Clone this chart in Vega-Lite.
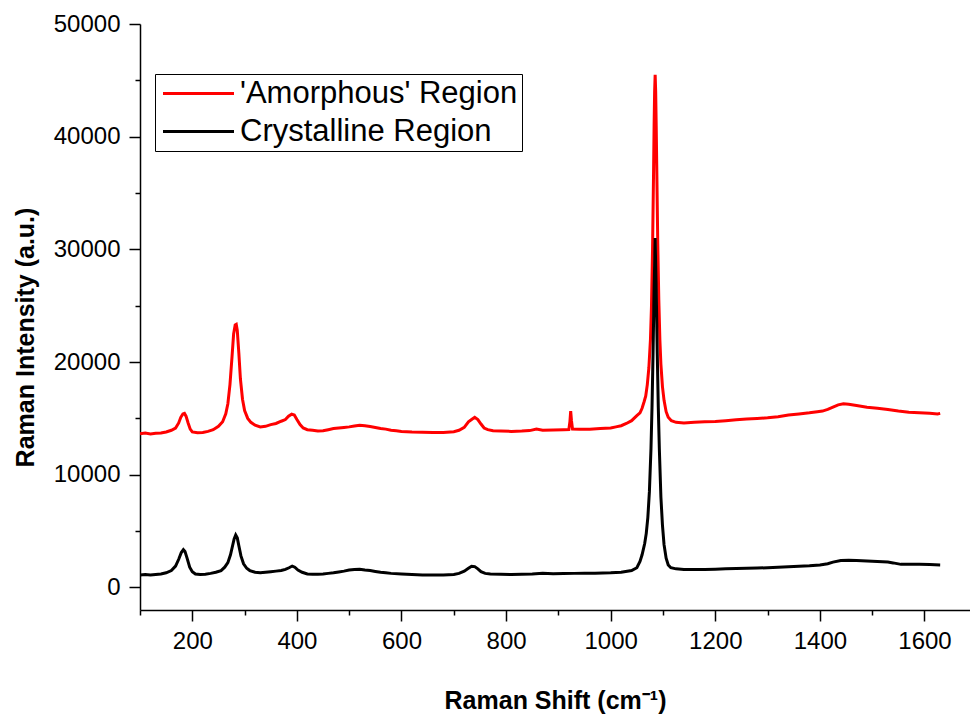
{
  "$schema": "https://vega.github.io/schema/vega-lite/v6.json",
  "width": 830,
  "height": 586,
  "autosize": {"type": "none"},
  "padding": {"left": 140, "top": 24, "right": 0, "bottom": 105},
  "background": "white",
  "config": {
    "view": {"stroke": null},
    "font": "Liberation Sans",
    "axis": {
      "domainColor": "black", "domainWidth": 1.5, "tickColor": "black", "tickWidth": 1.5,
      "labelColor": "black", "titleColor": "black", "labelFont": "Liberation Sans", "titleFont": "Liberation Sans",
      "labelFontSize": 24, "titleFontSize": 25, "titleFontWeight": "bold", "grid": false
    }
  },
  "datasets": {
    "amorphous": [
      {"x":100,"y":13650},{"x":110,"y":13700},{"x":120,"y":13620},{"x":130,"y":13680},{"x":140,"y":13700},{"x":150,"y":13800},{"x":160,"y":13950},{"x":168,"y":14150},{"x":174,"y":14600},{"x":178,"y":15100},{"x":182,"y":15400},{"x":185,"y":15450},{"x":188,"y":15200},{"x":192,"y":14600},{"x":196,"y":14050},{"x":200,"y":13800},{"x":210,"y":13720},{"x":220,"y":13750},{"x":230,"y":13850},{"x":240,"y":14000},{"x":250,"y":14300},{"x":258,"y":14700},{"x":264,"y":15400},{"x":268,"y":16300},{"x":272,"y":18000},{"x":276,"y":20500},{"x":279,"y":22500},{"x":282,"y":23300},{"x":284,"y":23350},{"x":286,"y":22800},{"x":289,"y":20800},{"x":292,"y":18500},{"x":296,"y":16700},{"x":300,"y":15700},{"x":306,"y":15000},{"x":312,"y":14650},{"x":320,"y":14400},{"x":330,"y":14250},{"x":340,"y":14300},{"x":350,"y":14450},{"x":360,"y":14550},{"x":370,"y":14750},{"x":378,"y":14900},{"x":384,"y":15200},{"x":390,"y":15380},{"x":395,"y":15300},{"x":400,"y":14900},{"x":406,"y":14450},{"x":412,"y":14150},{"x":420,"y":14000},{"x":430,"y":13950},{"x":440,"y":13880},{"x":450,"y":13900},{"x":460,"y":14000},{"x":470,"y":14100},{"x":480,"y":14150},{"x":490,"y":14200},{"x":500,"y":14250},{"x":510,"y":14330},{"x":520,"y":14400},{"x":530,"y":14350},{"x":540,"y":14280},{"x":550,"y":14200},{"x":560,"y":14100},{"x":570,"y":14050},{"x":580,"y":13950},{"x":590,"y":13900},{"x":600,"y":13850},{"x":620,"y":13800},{"x":640,"y":13780},{"x":660,"y":13760},{"x":680,"y":13750},{"x":700,"y":13820},{"x":710,"y":13950},{"x":720,"y":14200},{"x":728,"y":14700},{"x":734,"y":14900},{"x":740,"y":15100},{"x":746,"y":14900},{"x":752,"y":14500},{"x":758,"y":14150},{"x":765,"y":14000},{"x":775,"y":13900},{"x":790,"y":13880},{"x":810,"y":13850},{"x":830,"y":13880},{"x":845,"y":13920},{"x":858,"y":14050},{"x":870,"y":13950},{"x":890,"y":13970},{"x":910,"y":14000},{"x":920,"y":14020},{"x":922,"y":14700},{"x":923.5,"y":15650},{"x":925,"y":14800},{"x":927,"y":14050},{"x":940,"y":14030},{"x":960,"y":14050},{"x":980,"y":14100},
      {"x":1000,"y":14150},{"x":1010,"y":14250},{"x":1020,"y":14350},{"x":1030,"y":14550},{"x":1040,"y":14800},{"x":1050,"y":15250},{"x":1056,"y":15500},{"x":1060,"y":15900},{"x":1064,"y":16500},{"x":1067,"y":17000},{"x":1070,"y":18000},{"x":1073,"y":19500},{"x":1076,"y":22000},{"x":1078,"y":25000},{"x":1080,"y":30000},{"x":1082,"y":37000},{"x":1083,"y":41000},{"x":1084,"y":44000},{"x":1085,"y":45500},{"x":1086,"y":44000},{"x":1087,"y":41000},{"x":1088,"y":37500},{"x":1090,"y":30500},{"x":1092,"y":25500},{"x":1094,"y":22000},{"x":1096,"y":19800},{"x":1099,"y":17800},{"x":1102,"y":16600},{"x":1106,"y":15600},{"x":1110,"y":15100},{"x":1116,"y":14800},{"x":1125,"y":14650},{"x":1140,"y":14600},
      {"x":1160,"y":14650},{"x":1180,"y":14700},{"x":1200,"y":14720},{"x":1220,"y":14800},{"x":1240,"y":14880},{"x":1260,"y":14950},{"x":1280,"y":15000},{"x":1300,"y":15050},{"x":1320,"y":15150},{"x":1340,"y":15300},{"x":1360,"y":15400},{"x":1380,"y":15500},{"x":1395,"y":15600},{"x":1405,"y":15650},{"x":1415,"y":15800},{"x":1425,"y":16000},{"x":1435,"y":16200},{"x":1445,"y":16300},{"x":1455,"y":16250},{"x":1470,"y":16150},{"x":1490,"y":16000},{"x":1510,"y":15900},{"x":1530,"y":15800},{"x":1550,"y":15650},{"x":1570,"y":15550},{"x":1590,"y":15500},{"x":1610,"y":15450},{"x":1625,"y":15400},{"x":1630,"y":15450}
    ],
    "crystalline": [
      {"x":100,"y":1100},{"x":110,"y":1150},{"x":120,"y":1100},{"x":130,"y":1150},{"x":140,"y":1200},{"x":150,"y":1300},{"x":160,"y":1500},{"x":168,"y":1900},{"x":174,"y":2500},{"x":179,"y":3100},{"x":183,"y":3350},{"x":186,"y":3200},{"x":190,"y":2600},{"x":195,"y":1800},{"x":200,"y":1400},{"x":206,"y":1200},{"x":215,"y":1150},{"x":225,"y":1180},{"x":235,"y":1250},{"x":245,"y":1350},{"x":255,"y":1500},{"x":262,"y":1800},{"x":268,"y":2200},{"x":273,"y":2900},{"x":277,"y":3700},{"x":280,"y":4300},{"x":283,"y":4650},{"x":286,"y":4400},{"x":289,"y":3700},{"x":293,"y":2800},{"x":298,"y":2100},{"x":304,"y":1700},{"x":310,"y":1500},{"x":320,"y":1350},{"x":330,"y":1300},{"x":340,"y":1350},{"x":350,"y":1400},{"x":360,"y":1450},{"x":370,"y":1500},{"x":378,"y":1600},{"x":385,"y":1750},{"x":391,"y":1900},{"x":396,"y":1800},{"x":402,"y":1550},{"x":410,"y":1350},{"x":420,"y":1200},{"x":430,"y":1170},{"x":440,"y":1180},{"x":450,"y":1200},{"x":460,"y":1250},{"x":470,"y":1300},{"x":480,"y":1380},{"x":490,"y":1450},{"x":500,"y":1550},{"x":510,"y":1600},{"x":520,"y":1620},{"x":530,"y":1550},{"x":540,"y":1500},{"x":550,"y":1420},{"x":560,"y":1350},{"x":570,"y":1300},{"x":580,"y":1250},{"x":600,"y":1200},{"x":620,"y":1150},{"x":640,"y":1100},{"x":660,"y":1100},{"x":680,"y":1100},{"x":700,"y":1150},{"x":710,"y":1250},{"x":720,"y":1450},{"x":728,"y":1700},{"x":734,"y":1880},{"x":740,"y":1850},{"x":746,"y":1650},{"x":752,"y":1400},{"x":760,"y":1250},{"x":770,"y":1200},{"x":790,"y":1170},{"x":810,"y":1150},{"x":830,"y":1180},{"x":850,"y":1200},{"x":870,"y":1250},{"x":890,"y":1220},{"x":910,"y":1230},{"x":930,"y":1250},{"x":950,"y":1260},{"x":970,"y":1270},{"x":985,"y":1290},
      {"x":1000,"y":1300},{"x":1020,"y":1350},{"x":1040,"y":1500},{"x":1050,"y":1750},{"x":1056,"y":2300},{"x":1060,"y":2900},{"x":1065,"y":3900},{"x":1068,"y":4800},{"x":1071,"y":6200},{"x":1074,"y":8500},{"x":1077,"y":12300},{"x":1079,"y":16000},{"x":1081,"y":20800},{"x":1082,"y":23700},{"x":1083,"y":26500},{"x":1084,"y":28600},{"x":1085,"y":31000},{"x":1086,"y":28600},{"x":1087,"y":26500},{"x":1088,"y":23700},{"x":1089,"y":20800},{"x":1091,"y":16000},{"x":1093,"y":12300},{"x":1096,"y":8000},{"x":1099,"y":5500},{"x":1102,"y":3800},{"x":1106,"y":2600},{"x":1110,"y":2000},{"x":1115,"y":1750},{"x":1125,"y":1650},{"x":1140,"y":1600},
      {"x":1160,"y":1600},{"x":1180,"y":1600},{"x":1200,"y":1620},{"x":1220,"y":1650},{"x":1240,"y":1680},{"x":1260,"y":1700},{"x":1280,"y":1720},{"x":1300,"y":1750},{"x":1320,"y":1800},{"x":1340,"y":1830},{"x":1360,"y":1880},{"x":1380,"y":1920},{"x":1400,"y":2000},{"x":1415,"y":2100},{"x":1425,"y":2250},{"x":1440,"y":2400},{"x":1455,"y":2420},{"x":1470,"y":2400},{"x":1490,"y":2350},{"x":1510,"y":2300},{"x":1530,"y":2250},{"x":1540,"y":2180},{"x":1555,"y":2050},{"x":1570,"y":2050},{"x":1590,"y":2050},{"x":1610,"y":2030},{"x":1630,"y":2000}
    ]
  },
  "encoding": {
    "x": {
      "field": "x", "type": "quantitative",
      "scale": {"domain": [100, 1687], "nice": false, "zero": false},
      "axis": {
        "title": "Raman Shift (cm⁻¹)",
        "values": [100,200,300,400,500,600,700,800,900,1000,1100,1200,1300,1400,1500,1600],
        "labelExpr": "datum.value % 200 === 0 ? datum.label : ''",
        "format": "d",
        "tickSize": {"expr": "datum.value % 200 === 0 ? 11 : 5"},
        "labelPadding": 8,
        "titleY": 98, "titleBaseline": "alphabetic"
      }
    },
    "y": {
      "field": "y", "type": "quantitative",
      "scale": {"domain": [-2000, 50000], "nice": false, "zero": false},
      "axis": {
        "title": "Raman Intensity (a.u.)",
        "values": [0,5000,10000,15000,20000,25000,30000,35000,40000,45000,50000],
        "labelExpr": "datum.value % 10000 === 0 ? datum.label : ''",
        "format": "d",
        "tickSize": {"expr": "datum.value % 10000 === 0 ? 11 : 5"},
        "labelPadding": 9,
        "titleX": -107, "titleY": 313, "titleBaseline": "alphabetic", "titleAngle": -90
      }
    }
  },
  "layer": [
    {"data": {"name": "amorphous"}, "mark": {"type": "line", "strokeWidth": 3, "clip": true},
     "encoding": {"color": {
      "datum": "Amorphous", "type": "nominal",
      "scale": {"domain": ["Amorphous", "Crystalline"], "range": ["#ff0000", "#000000"]},
      "legend": {
        "title": null, "orient": "none", "legendX": 15, "legendY": 50,
        "strokeColor": "black", "padding": 4, "fillColor": "white",
        "symbolType": "M-2.84,0L2.84,0", "symbolSize": 625, "symbolStrokeWidth": 3, "symbolOffset": 24,
        "labelExpr": "datum.label == 'Amorphous' ? \"'Amorphous' Region\" : 'Crystalline Region'",
        "labelFontSize": 31, "labelFont": "Liberation Sans", "labelColor": "black", "labelOffset": 26, "labelLimit": 500, "rowPadding": 6
      }}}},
    {"data": {"name": "crystalline"}, "mark": {"type": "line", "strokeWidth": 3, "clip": true},
     "encoding": {"color": {"datum": "Crystalline", "type": "nominal"}}}
  ]
}
